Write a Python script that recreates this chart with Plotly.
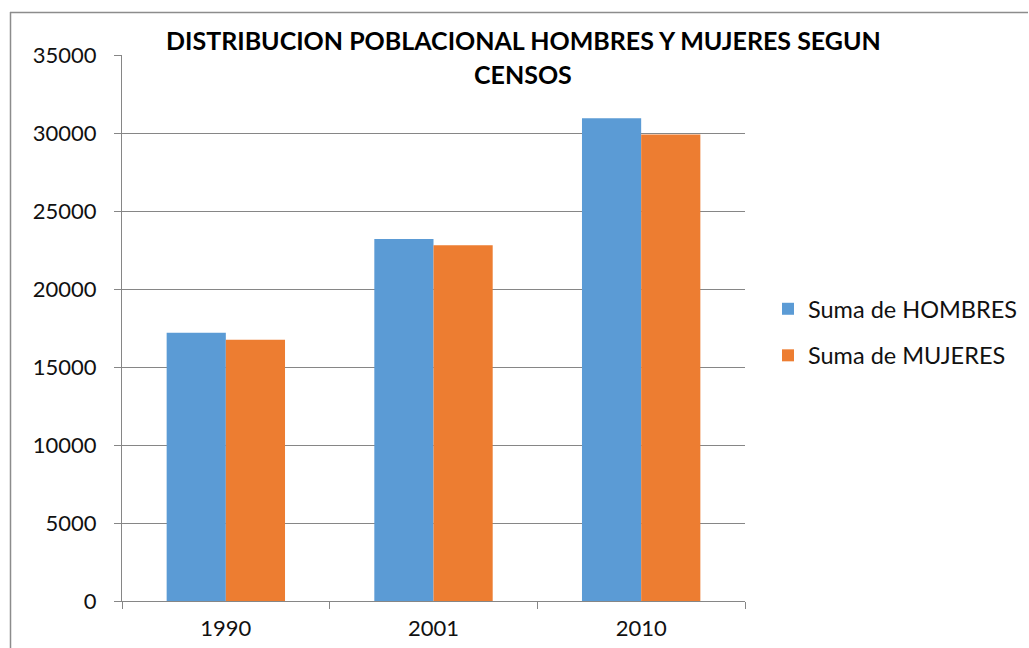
import plotly.graph_objects as go

years = ["1990", "2001", "2010"]
hombres = [17200, 23200, 30950]
mujeres = [16750, 22800, 29900]
y_ticks = [0, 5000, 10000, 15000, 20000, 25000, 30000, 35000]
y_tick_text = [str(v) for v in y_ticks]

W, H = 1029, 648
L, R, T, B = 122, 745, 55, 601
pw, ph = R - L, B - T

def px(x):
    return (x - L) / pw

def py(y):
    return (B - y) / ph

fig = go.Figure()
fig.add_trace(go.Bar(x=years, y=hombres, name="Suma de HOMBRES",
                     marker=dict(color="#5B9BD5", line=dict(width=0)),
                     legendgroup="h"))
fig.add_trace(go.Bar(x=years, y=mujeres, name="Suma de MUJERES",
                     marker=dict(color="#ED7D31", line=dict(width=0)),
                     legendgroup="m"))

font_fam = "Lato, 'Open Sans', sans-serif"
txt = "#111111"

fig.update_layout(
    width=W, height=H,
    margin=dict(l=L, r=W - R, t=T, b=H - B, pad=0, autoexpand=False),
    paper_bgcolor="white", plot_bgcolor="white",
    barmode="group", bargap=0.43, bargroupgap=0,
    font=dict(family=font_fam, size=22, color=txt),
    showlegend=True,
    legend=dict(x=px(768), y=py(287), xanchor="left", yanchor="top",
                font=dict(size=23.5, color=txt),
                traceorder="grouped", tracegroupgap=13,
                itemsizing="constant", bgcolor="rgba(0,0,0,0)"),
    xaxis=dict(type="category", showline=True, linecolor="#868686", linewidth=1,
               ticks="outside", ticklen=7, tickcolor="#868686", tickson="boundaries",
               showgrid=False, tickfont=dict(size=22, color=txt),
               ticklabelstandoff=8, automargin=False),
    yaxis=dict(range=[0, 35000], tickvals=y_ticks, ticktext=y_tick_text,
               showline=True, linecolor="#868686",
               linewidth=1, ticks="outside", ticklen=7, tickcolor="#868686",
               showgrid=True, gridcolor="#868686", gridwidth=1, zeroline=False,
               tickfont=dict(size=22, color=txt), ticklabelstandoff=13,
               automargin=False),
    shapes=[
        dict(type="line", xref="paper", yref="paper", x0=px(10), x1=px(1028),
             y0=py(12.5), y1=py(12.5), line=dict(color="#8c8c8c", width=1.5)),
        dict(type="line", xref="paper", yref="paper", x0=px(10.5), x1=px(10.5),
             y0=py(12), y1=py(660), line=dict(color="#8c8c8c", width=1.5)),
    ],
    annotations=[
        dict(text="<b>DISTRIBUCION POBLACIONAL HOMBRES Y MUJERES SEGUN</b>",
             xref="paper", yref="paper", x=px(523), y=py(40), xanchor="center",
             yanchor="middle", showarrow=False,
             font=dict(family=font_fam, size=25, color="black")),
        dict(text="<b>CENSOS</b>",
             xref="paper", yref="paper", x=px(523), y=py(74), xanchor="center",
             yanchor="middle", showarrow=False,
             font=dict(family=font_fam, size=25, color="black")),
    ],
)

fig.write_html(
    "out.html",
    config={"displayModeBar": False},
    post_script="document.body.style.margin='0';document.body.style.overflow='hidden';",
)
